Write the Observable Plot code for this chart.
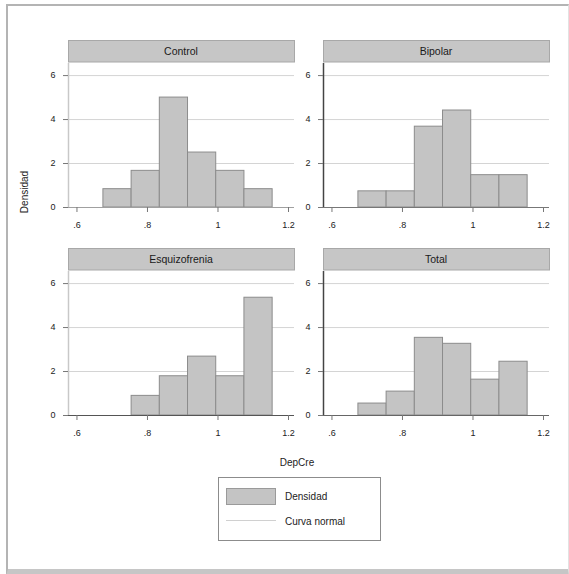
<!DOCTYPE html>
<html>
<head>
<meta charset="utf-8">
<script src="https://cdn.jsdelivr.net/npm/d3@7"></script>
<script src="https://cdn.jsdelivr.net/npm/@observablehq/plot@0.6"></script>
<style>
  html, body { margin: 0; padding: 0; background: #fff; }
  body { width: 569px; height: 574px; position: relative; overflow: hidden; font-family: "Liberation Sans", Arial, sans-serif; }
  #frame { position: absolute; left: 6px; top: 4px; width: 560px; height: 563px; border-left: 2px solid #b4b4b4; border-top: 2px solid #b4b4b4; border-right: 1px solid #e2e2e2; border-bottom: 7px solid #c6c6c6; }
  .panel { position: absolute; }
  #ytitle { position: absolute; left: 24px; top: 192px; transform: translate(-50%, -50%) rotate(-90deg); font-size: 10px; color: #222; white-space: nowrap; }
  #xtitle { position: absolute; left: 297px; top: 462px; transform: translate(-50%, -50%); font-size: 10px; color: #222; white-space: nowrap; }
  #legend { position: absolute; left: 218px; top: 477px; width: 161px; height: 62px; border: 1px solid #8c8c8c; background: #fff; }
  .sw { position: absolute; left: 7px; top: 10px; width: 48px; height: 15px; background: #c4c4c4; border: 1px solid #9a9a9a; }
  .ln { position: absolute; left: 7px; top: 42px; width: 50px; height: 0; border-top: 1px solid #d0d0d0; }
  .lt { position: absolute; left: 66px; font-size: 10px; color: #222; transform: translateY(-50%); white-space: nowrap; }
</style>
</head>
<body>
<div id="frame"></div>
<div id="ytitle">Densidad</div>
<div id="xtitle">DepCre</div>
<div id="legend">
  <div class="sw"></div><div class="lt" style="top:18px">Densidad</div>
  <div class="ln"></div><div class="lt" style="top:43px">Curva normal</div>
</div>
<script>
// ---- data ----
const groups = ["Control", "Bipolar", "Esquizofrenia", "Total"];
const binEdges = [0.675, 0.755, 0.835, 0.915, 0.995, 1.075, 1.155];
const controlCounts = [1, 2, 6, 3, 2, 1];
const bipolarCounts = [1, 1, 5, 6, 2, 2];
const esquizofreniaCounts = [0, 1, 2, 3, 2, 6];
const totalCounts = [2, 4, 13, 12, 6, 9];
const xTicks = [0.6, 0.8, 1, 1.2];
const xTickLabels = [".6", ".8", "1", "1.2"];
const yTicks = [0, 2, 4, 6];
const yTickLabels = ["0", "2", "4", "6"];
const xDomain = [0.576, 1.217];
const yDomain = [0, 6.55];

const countsByGroup = {
  "Control": controlCounts,
  "Bipolar": bipolarCounts,
  "Esquizofrenia": esquizofreniaCounts,
  "Total": totalCounts
};

// panel placement (layout only)
const layout = [
  {left: 0, top: 40, yAxisColor: "#c8c8c8", xAxisColor: "#a0a0a0"},
  {left: 255, top: 40, yAxisColor: "#444", xAxisColor: "#777"},
  {left: 0, top: 248, yAxisColor: "#c8c8c8", xAxisColor: "#555"},
  {left: 255, top: 248, yAxisColor: "#444", xAxisColor: "#666"}
];

groups.forEach((g, i) => {
  const counts = countsByGroup[g];
  const n = d3.sum(counts);
  const bins = counts.map((c, j) => {
    const w = binEdges[j + 1] - binEdges[j];
    return {x1: binEdges[j], x2: binEdges[j + 1], density: c / (n * w)};
  }).filter(d => d.density > 0);

  const L = layout[i];
  const strip = (index, scales, values, dims) => {
    const gEl = d3.create("svg:g");
    const w = dims.width - dims.marginLeft - dims.marginRight;
    gEl.append("rect")
      .attr("x", dims.marginLeft + 0.5).attr("y", 0.5)
      .attr("width", w).attr("height", dims.marginTop - 1.5)
      .attr("fill", "#c6c6c6").attr("stroke", "#a8a8a8");
    gEl.append("text")
      .attr("x", dims.marginLeft + w / 2).attr("y", (dims.marginTop - 1) / 2)
      .attr("text-anchor", "middle").attr("dominant-baseline", "central")
      .attr("font-size", 10.5).attr("fill", "#1a1a1a")
      .text(g);
    return gEl.node();
  };

  const chart = Plot.plot({
    width: 300,
    height: 197,
    marginLeft: 68,
    marginRight: 6,
    marginTop: 23,
    marginBottom: 30,
    style: {fontFamily: "Liberation Sans, Arial, sans-serif", fontSize: "9px", color: "#222", background: "transparent"},
    x: {domain: xDomain},
    y: {domain: yDomain},
    marks: [
      Plot.gridY({ticks: yTicks.slice(1), stroke: "#d4d4d4", strokeOpacity: 1}),
      Plot.rectY(bins, {x1: "x1", x2: "x2", y: "density", fill: "#c4c4c4", stroke: "#8c8c8c", strokeWidth: 1}),
      Plot.ruleX([xDomain[0]], {stroke: L.yAxisColor, strokeWidth: 1.5}),
      Plot.ruleY([0], {stroke: L.xAxisColor, strokeWidth: 1.2}),
      Plot.axisY({ticks: yTicks, tickFormat: d => yTickLabels[yTicks.indexOf(d)], tickSize: 5, tickPadding: 8, label: null, stroke: "#777", fill: "#222"}),
      Plot.axisX({ticks: xTicks, tickFormat: d => xTickLabels[xTicks.indexOf(d)], tickSize: 5, tickPadding: 9, label: null, stroke: "#777", fill: "#222"}),
      strip
    ]
  });
  chart.classList.add("panel");
  chart.style.left = L.left + "px";
  chart.style.top = L.top + "px";
  chart.style.position = "absolute";
  document.body.appendChild(chart);
});
</script>
</body>
</html>
